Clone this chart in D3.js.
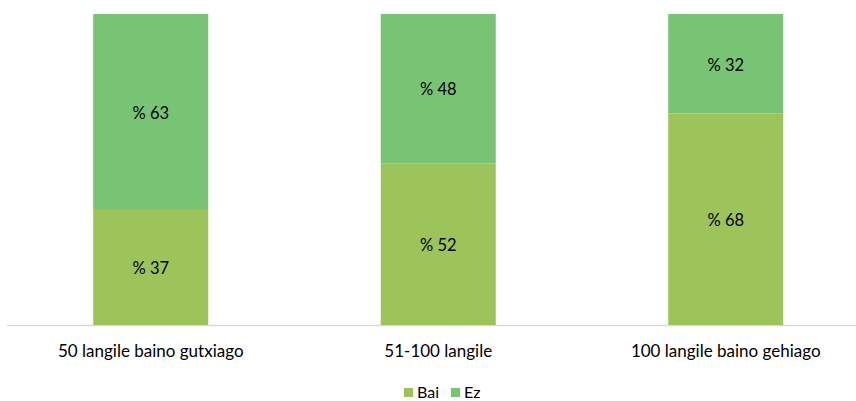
<!DOCTYPE html>
<html><head><meta charset="utf-8">
<script src="https://cdn.jsdelivr.net/npm/d3@7"></script>
<style>body{margin:0;background:#fff}svg{display:block;font-family:Lato,"Open Sans",sans-serif}</style>
</head><body><svg id="c" width="856" height="401"></svg>
<script>
const categories = ["50 langile baino gutxiago", "51-100 langile", "100 langile baino gehiago"];
const bai = [37, 52, 68];
const ez = [63, 48, 32];
const seriesNames = ["Bai", "Ez"];
const colors = ["#9cc45b", "#78c475"];

const svg = d3.select("#c");
const x = d3.scaleBand().domain(categories).range([7, 869.5]).paddingInner(0.6).paddingOuter(0.3);
const y = d3.scaleLinear().domain([0, 100]).range([325, 14]);

const rows = categories.map((c, i) => ({cat: c, Bai: bai[i], Ez: ez[i]}));
const stack = d3.stack().keys(seriesNames)(rows);

svg.append("line").attr("x1", 7).attr("x2", 856).attr("y1", 325.5).attr("y2", 325.5)
  .attr("stroke", "#d9d9d9").attr("stroke-width", 1.5);

stack.forEach((s, si) => {
  const g = svg.append("g");
  g.selectAll("rect").data(s).join("rect")
    .attr("x", d => x(d.data.cat)).attr("width", x.bandwidth())
    .attr("y", d => y(d[1])).attr("height", d => y(d[0]) - y(d[1]))
    .attr("fill", colors[si]);
  g.selectAll("text").data(s).join("text")
    .attr("x", d => x(d.data.cat) + x.bandwidth() / 2)
    .attr("y", d => (y(d[0]) + y(d[1])) / 2 + 1)
    .attr("dy", "0.35em").attr("text-anchor", "middle")
    .attr("font-size", 16.5).attr("fill", "#000")
    .text(d => "% " + (d[1] - d[0]));
});

const xAxis = svg.append("g").attr("transform", "translate(0,325)")
  .call(d3.axisBottom(x).tickSize(0).tickPadding(20));
xAxis.select(".domain").remove();
xAxis.selectAll("text").attr("font-size", 17).attr("fill", "#000").attr("font-family", "Lato,'Open Sans',sans-serif");

const legend = svg.append("g").attr("transform", "translate(404,392)");
const items = [{n: "Bai", x: 0}, {n: "Ez", x: 47}];
items.forEach((it, i) => {
  legend.append("rect").attr("x", it.x).attr("y", -4).attr("width", 9).attr("height", 9).attr("fill", colors[i]);
  legend.append("text").attr("x", it.x + 13).attr("y", 0).attr("dy", "0.35em")
    .attr("font-size", 16).attr("fill", "#000").text(it.n);
});
</script></body></html>
